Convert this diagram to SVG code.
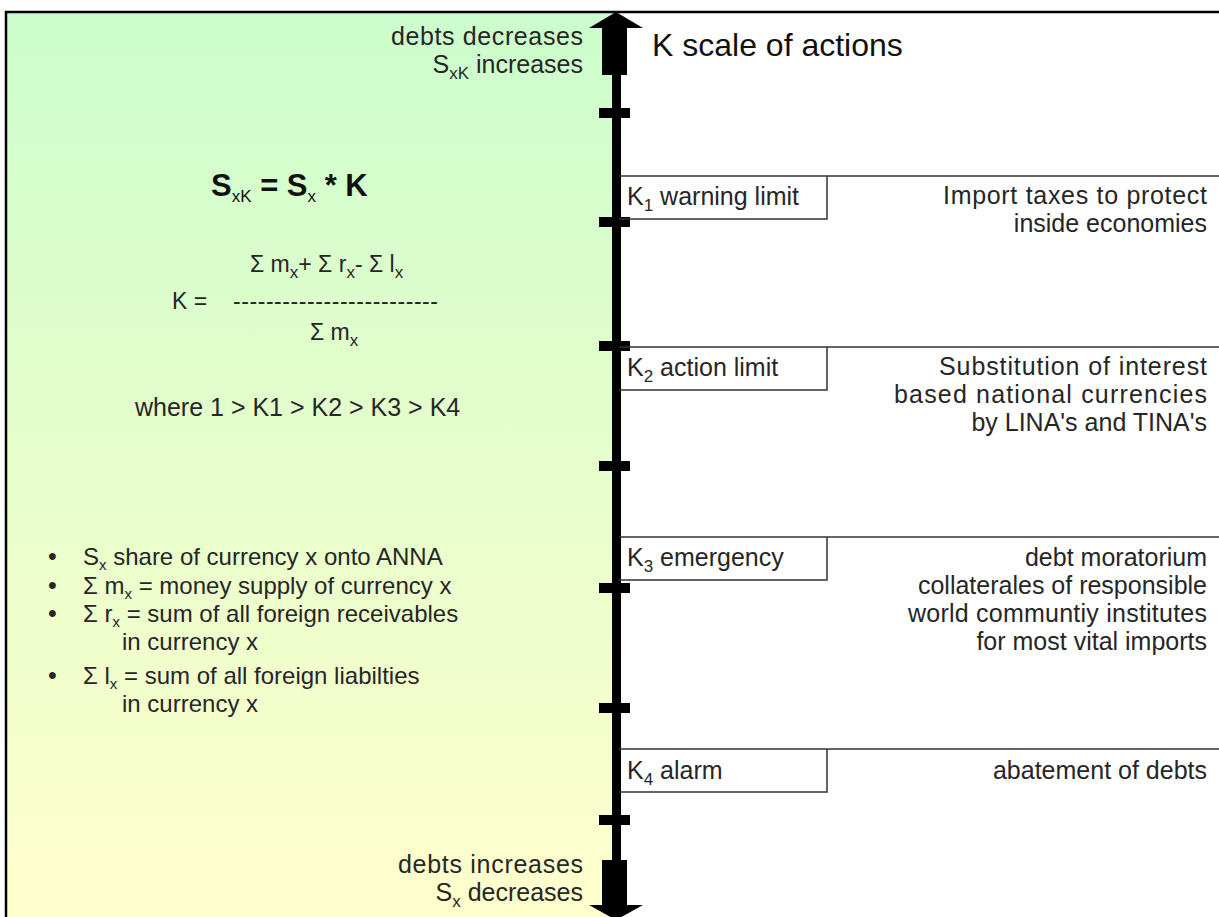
<svg xmlns="http://www.w3.org/2000/svg" width="1219" height="917" viewBox="0 0 1219 917">
<defs>
<linearGradient id="bg" x1="0" y1="0" x2="0" y2="1">
<stop offset="0" stop-color="#ccfdcc"/>
<stop offset="1" stop-color="#ffffcc"/>
</linearGradient>
<style>
text{font-family:"Liberation Sans",Arial,sans-serif;fill:#262626;font-size:25px}
.r{text-anchor:end}
.sub{font-size:17px}
.f{font-size:23px}
.l{font-size:24px}
.l .sub{font-size:15px}
.big{font-size:31px;font-weight:bold;fill:#111}
.title{font-size:32px;fill:#111}
.box{fill:none;stroke:#333;stroke-width:1.5}
.ax{fill:#000}
</style>
</defs>
<rect x="0" y="0" width="1219" height="917" fill="#fff"/>
<rect x="6" y="12" width="610" height="905" fill="url(#bg)"/>
<path d="M6 917 V12 H1219" fill="none" stroke="#000" stroke-width="2.5"/>

<g id="axis">
<rect class="ax" x="612" y="27" width="9" height="880"/>
<rect class="ax" x="602" y="27" width="25" height="48"/>
<polygon class="ax" points="589,28 616,12 643,28"/>
<rect class="ax" x="602" y="860" width="25" height="46"/>
<polygon class="ax" points="589,905 643,905 616,920"/>
<rect class="ax" x="599" y="108" width="31" height="10"/>
<rect class="ax" x="599" y="217" width="31" height="10"/>
<rect class="ax" x="599" y="341" width="31" height="10"/>
<rect class="ax" x="599" y="461" width="31" height="10"/>
<rect class="ax" x="599" y="583" width="31" height="10"/>
<rect class="ax" x="599" y="703" width="31" height="10"/>
<rect class="ax" x="599" y="815" width="31" height="10"/>
</g>

<g id="title"><text class="title" x="652" y="56">K scale of actions</text></g>

<g id="top-labels">
<text class="r" x="583" y="45" textLength="192" lengthAdjust="spacing">debts decreases</text>
<text class="r" x="583" y="73">S<tspan class="sub" dy="6">xK</tspan><tspan dy="-6"> increases</tspan></text>
</g>
<g id="bottom-labels">
<text class="r" x="583" y="873" textLength="185" lengthAdjust="spacing">debts increases</text>
<text class="r" x="583" y="901">S<tspan class="sub" dy="6">x</tspan><tspan dy="-6"> decreases</tspan></text>
</g>

<g id="formula">
<text class="big" x="211" y="196">S<tspan class="sub" dy="6" font-weight="normal" font-size="19">xK</tspan><tspan dy="-6"> = S</tspan><tspan class="sub" dy="6" font-weight="normal" font-size="19">x</tspan><tspan dy="-6"> * K</tspan></text>
<text class="f" x="250" y="272">Σ m<tspan class="sub" dy="6">x</tspan><tspan dy="-6">+ Σ r</tspan><tspan class="sub" dy="6">x</tspan><tspan dy="-6">- Σ l</tspan><tspan class="sub" dy="6">x</tspan></text>
<text class="f" x="172" y="309">K =</text>
<text class="f" x="233" y="309" textLength="205" lengthAdjust="spacing">-------------------------</text>
<text class="f" x="310" y="340">Σ m<tspan class="sub" dy="6">x</tspan></text>
<text x="135" y="416" font-size="20">where 1 &gt; K1 &gt; K2 &gt; K3 &gt; K4</text>
</g>

<g id="legend" class="l">
<text x="48" y="565" font-size="19">•</text><text class="l" x="83" y="565">S<tspan class="sub" dy="5">x</tspan><tspan dy="-5"> share of currency x onto ANNA</tspan></text>
<text x="48" y="594" font-size="19">•</text><text class="l" x="83" y="594">Σ m<tspan class="sub" dy="5">x</tspan><tspan dy="-5"> = money supply of currency x</tspan></text>
<text x="48" y="622" font-size="19">•</text><text class="l" x="83" y="622">Σ r<tspan class="sub" dy="5">x</tspan><tspan dy="-5"> = sum of all foreign receivables</tspan></text>
<text class="l" x="122" y="650">in currency x</text>
<text x="48" y="684" font-size="19">•</text><text class="l" x="83" y="684">Σ l<tspan class="sub" dy="5">x</tspan><tspan dy="-5"> = sum of all foreign liabilties</tspan></text>
<text class="l" x="122" y="712">in currency x</text>
</g>

<g id="k1">
<path class="box" d="M619 176 H1219 M827 176 V219 H619"/>
<text x="627" y="205">K<tspan class="sub" dy="6">1</tspan><tspan dy="-6"> warning limit</tspan></text>
<text class="r" x="1207" y="204" textLength="264" lengthAdjust="spacing">Import taxes to protect</text>
<text class="r" x="1207" y="232">inside economies</text>
</g>
<g id="k2">
<path class="box" d="M619 347 H1219 M827 347 V390 H619"/>
<text x="627" y="376">K<tspan class="sub" dy="6">2</tspan><tspan dy="-6"> action limit</tspan></text>
<text class="r" x="1207" y="375" textLength="268" lengthAdjust="spacing">Substitution of interest</text>
<text class="r" x="1207" y="403" textLength="313" lengthAdjust="spacing">based national currencies</text>
<text class="r" x="1207" y="431">by LINA's and TINA's</text>
</g>
<g id="k3">
<path class="box" d="M619 537 H1219 M827 537 V580 H619"/>
<text x="627" y="566">K<tspan class="sub" dy="6">3</tspan><tspan dy="-6"> emergency</tspan></text>
<text class="r" x="1207" y="566">debt moratorium</text>
<text class="r" x="1207" y="594">collaterales of responsible</text>
<text class="r" x="1207" y="622" textLength="299" lengthAdjust="spacing">world communtiy institutes</text>
<text class="r" x="1207" y="650">for most vital imports</text>
</g>
<g id="k4">
<path class="box" d="M619 749 H1219 M827 749 V792 H619"/>
<text x="627" y="779">K<tspan class="sub" dy="6">4</tspan><tspan dy="-6"> alarm</tspan></text>
<text class="r" x="1207" y="779">abatement of debts</text>
</g>
</svg>
